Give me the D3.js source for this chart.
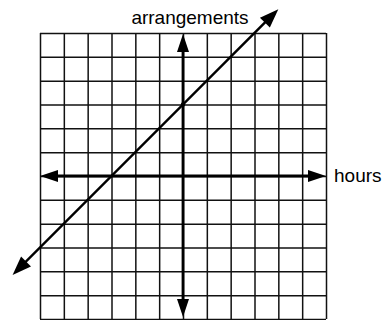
<!DOCTYPE html>
<html>
<head>
<meta charset="utf-8">
<script src="https://cdn.jsdelivr.net/npm/d3@7"></script>
<style>
  html, body { margin: 0; padding: 0; background: #fff; }
  svg { display: block; }
</style>
</head>
<body>
<svg id="chart" width="385" height="320"></svg>
<script>
// ---- data ----
const gridTicks = [-6, -5, -4, -3, -2, -1, 0, 1, 2, 3, 4, 5, 6];
const xDomain = [-6, 6];
const yDomain = [-6, 6];
// line y = x + 3, drawn with arrows at both ends
const lineX = [-7.15, 4.0];
const lineY = [-4.15, 7.0];
// axis extents (data units)
const hAxisX = [-6, 6];
const vAxisY = [-6, 6];
const xLabel = "hours";
const yLabel = "arrangements";

// ---- layout ----
const svg = d3.select("#chart");
const pLeft = 40, pRight = 326, pTop = 33, pBottom = 319;
const x = d3.scaleLinear().domain(xDomain).range([pLeft, pRight]);
const y = d3.scaleLinear().domain(yDomain).range([pBottom, pTop]);

// grid via axes
svg.append("g")
  .attr("transform", `translate(0,${pBottom})`)
  .call(d3.axisBottom(x).tickValues(gridTicks).tickSize(-(pBottom - pTop)).tickFormat(""))
  .call(g => g.select(".domain").remove())
  .call(g => g.selectAll("line").attr("stroke", "#111").attr("stroke-width", 1.5));
svg.append("g")
  .attr("transform", `translate(${pLeft},0)`)
  .call(d3.axisLeft(y).tickValues(gridTicks).tickSize(-(pRight - pLeft)).tickFormat(""))
  .call(g => g.select(".domain").remove())
  .call(g => g.selectAll("line").attr("stroke", "#111").attr("stroke-width", 1.5));

function arrow(x1, y1, x2, y2, width, headLen, headW) {
  const dx = x2 - x1, dy = y2 - y1, len = Math.hypot(dx, dy);
  const ux = dx / len, uy = dy / len, nx = -uy, ny = ux;
  const g = svg.append("g");
  g.append("line")
    .attr("x1", x1 + ux * (headLen - 2)).attr("y1", y1 + uy * (headLen - 2))
    .attr("x2", x2 - ux * (headLen - 2)).attr("y2", y2 - uy * (headLen - 2))
    .attr("stroke", "#000").attr("stroke-width", width);
  const head = (tx, ty, sx, sy) => {
    const bx = tx - sx * headLen, by = ty - sy * headLen;
    return [[tx, ty], [bx + nx * headW / 2, by + ny * headW / 2], [bx - nx * headW / 2, by - ny * headW / 2]];
  };
  g.append("polygon").attr("points", head(x2, y2, ux, uy).join(" ")).attr("fill", "#000");
  g.append("polygon").attr("points", head(x1, y1, -ux, -uy).join(" ")).attr("fill", "#000");
}

// axes with arrows
arrow(x(hAxisX[0]), y(0), x(hAxisX[1]), y(0), 2.8, 18, 12);
arrow(x(0), y(vAxisY[0]) - 2, x(0), y(vAxisY[1]) + 1, 2.8, 18, 12);
// line
arrow(x(lineX[0]), y(lineY[0]), x(lineX[1]), y(lineY[1]), 2.4, 19, 14);

// point on y-intercept
svg.append("circle").attr("cx", x(0)).attr("cy", y(3)).attr("r", 2.2).attr("fill", "#000");

// labels
svg.append("text").attr("x", x(0) + 7).attr("y", 24)
  .attr("text-anchor", "middle")
  .attr("font-family", "Liberation Sans, Arial, sans-serif").attr("font-size", 19)
  .text(yLabel);
svg.append("text").attr("x", 334).attr("y", y(0) + 6)
  .attr("font-family", "Liberation Sans, Arial, sans-serif").attr("font-size", 19)
  .text(xLabel);
</script>
</body>
</html>
